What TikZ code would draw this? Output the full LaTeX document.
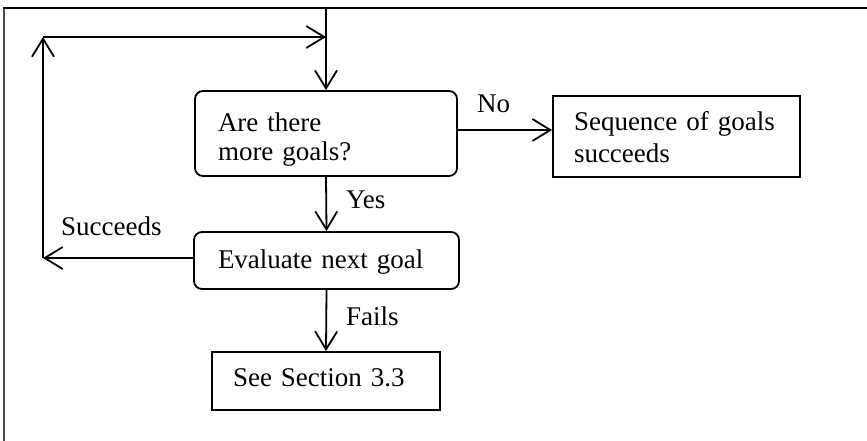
\documentclass[tikz,border=0pt]{standalone}
\usepackage{fontspec}
\setmainfont{Liberation Serif}
\usetikzlibrary{arrows.meta}
\begin{document}
\begin{tikzpicture}[x=1pt,y=-1pt,
  every node/.style={font=\fontsize{27pt}{30pt}\selectfont},
  arr/.style={line width=1.8pt,-{Straight Barb[length=18pt,width=22pt,line width=1.8pt]}},
  rbox/.style={draw,line width=1.8pt,rounded corners=8pt,inner sep=0pt},
  sbox/.style={draw,line width=1.8pt,inner sep=0pt},
  lbl/.style={anchor=base west,inner sep=0pt}]
\useasboundingbox (0,0) rectangle (867,441);
% frame
\draw[line width=2pt,black!70] (4,8) -- (4,441);
\draw[line width=2pt] (3,8) -- (867,8);
% nodes
\node[rbox,minimum width=262pt,minimum height=85pt,text width=216pt,align=left] (q) at (326,133.5) {\rule{0pt}{30pt}Are there\\[-1pt]more goals?};
\node[sbox,minimum width=247pt,minimum height=81pt,text width=205pt,align=left] (s) at (676.5,136.5) {\rule{0pt}{20pt}Sequence of goals\\[2pt]succeeds};
\node[rbox,minimum width=265pt,minimum height=57pt,text width=217pt,align=left,text height=22pt] (e) at (326.5,260.5) {Evaluate next goal};
\node[sbox,minimum width=228pt,minimum height=58pt,text width=186pt,align=left] (f) at (326,381) {See Section 3.3\rule[-7pt]{0pt}{7pt}};
% coordinates
\coordinate (top) at (326,8);
\coordinate (J) at (326,37);
\coordinate (L1) at (43,258);
\coordinate (L2) at (43,37);
\coordinate (ny) at (0,130);
\coordinate (ey) at (0,258);
% connectors
\draw[arr] (top) -- (q.north);
\draw[arr] (q.east |- ny) -- (s.west |- ny);
\draw[arr] (q.south) -- (e.north);
\draw[arr] (e.south) -- (f.north);
\draw[arr] (e.west |- ey) -- (L1);
\draw[arr] (L1) -- (L2);
\draw[arr] (L2) -- (J);
% labels
\node[lbl] (no) at (477,113) {No};
\node[lbl] (yes) at (346,208) {Yes};
\node[lbl] (fails) at (346,325) {Fails};
\node[lbl] (succ) at (61,235) {Succeeds};
\end{tikzpicture}
\end{document}
